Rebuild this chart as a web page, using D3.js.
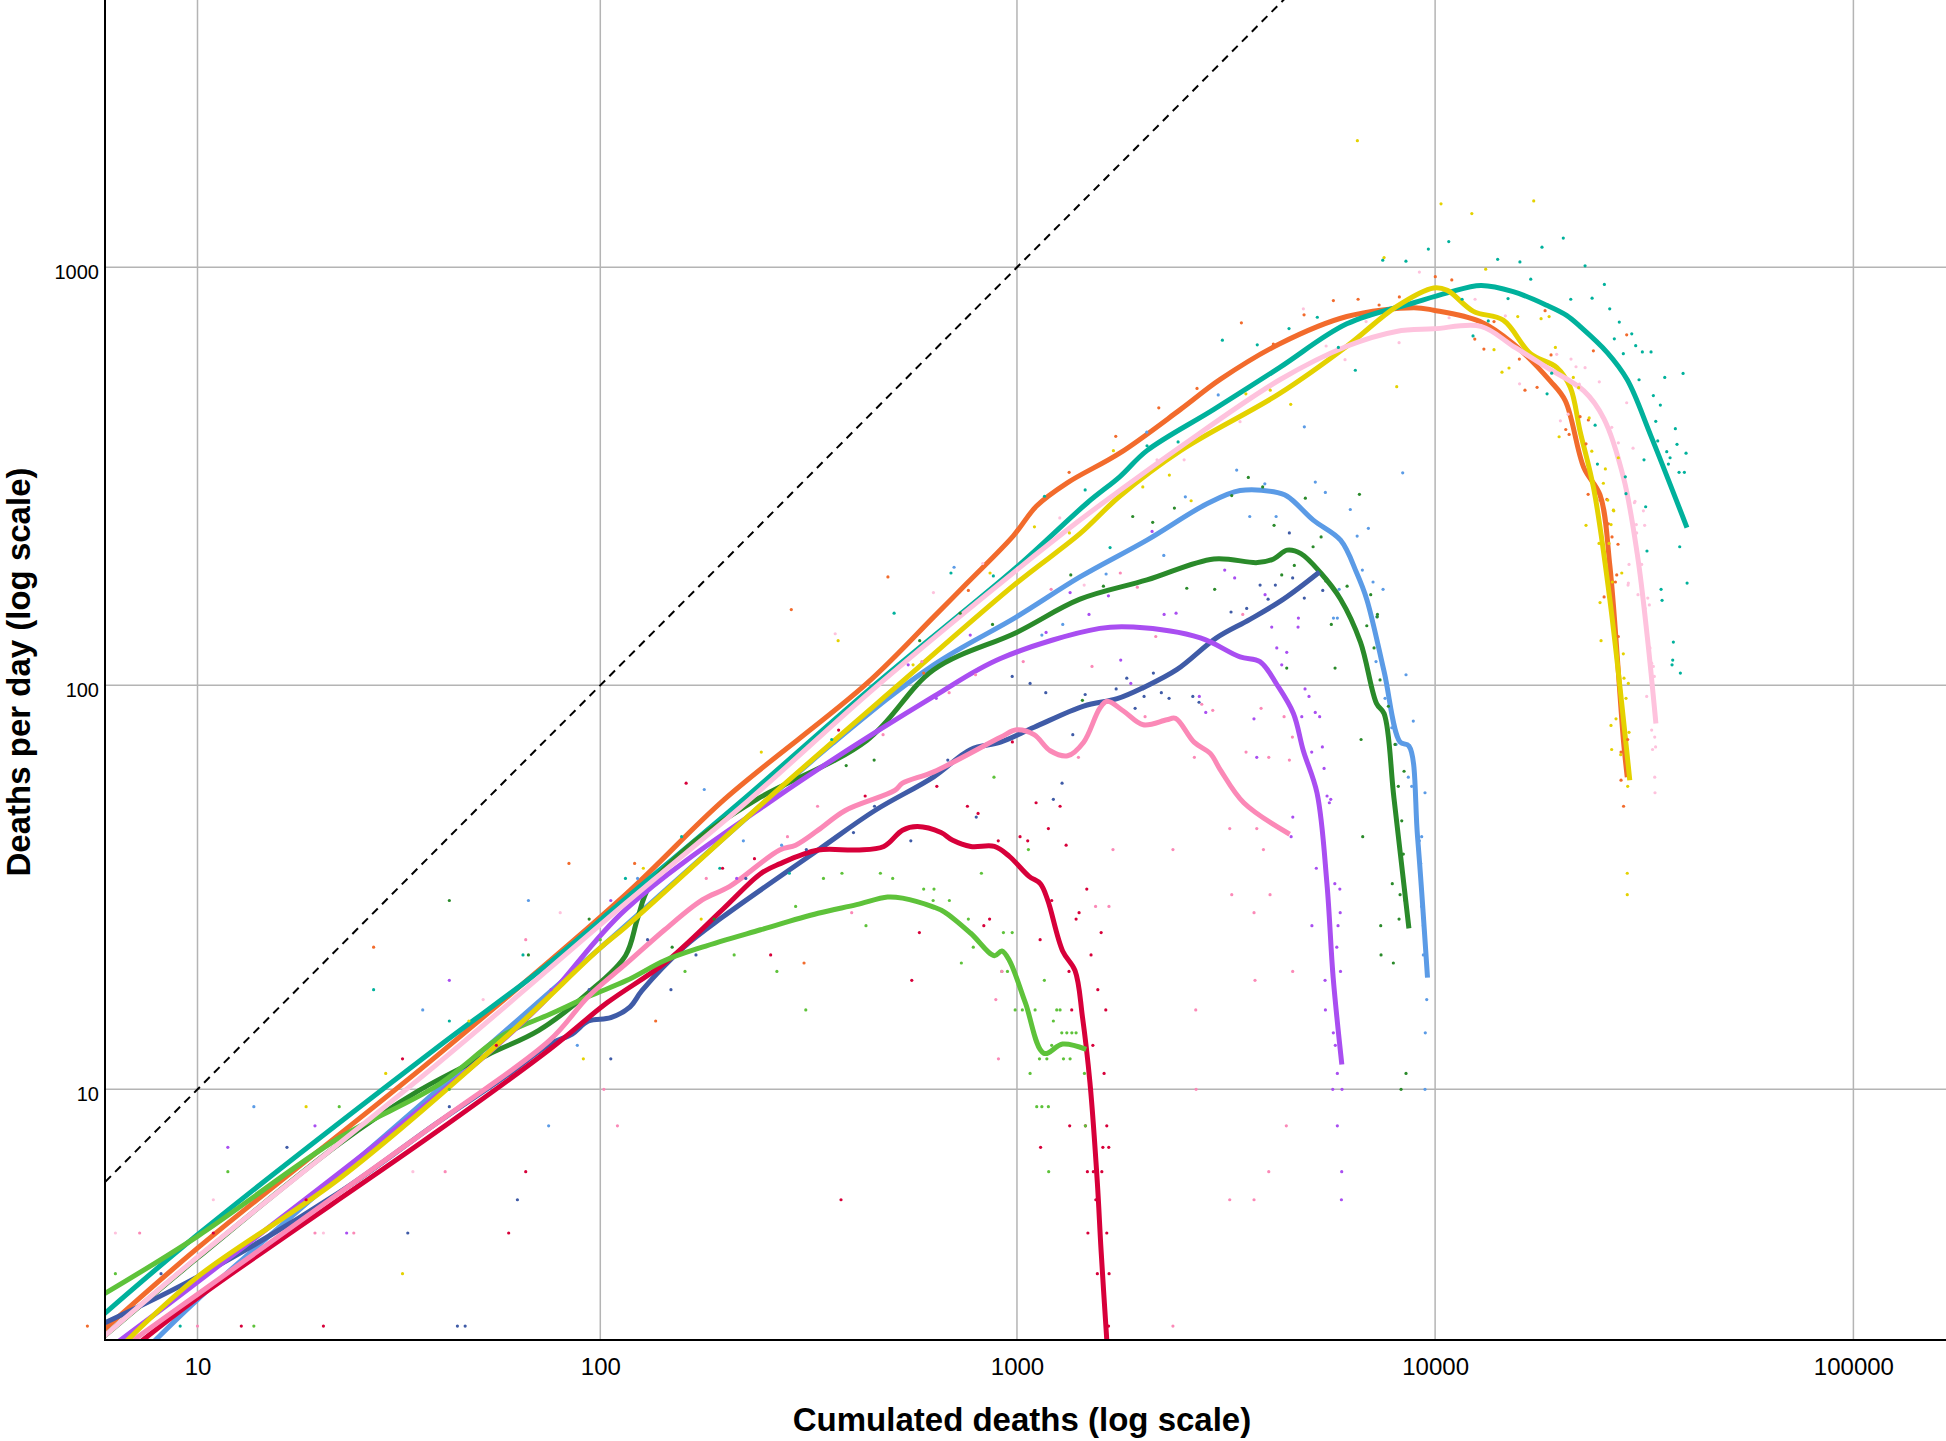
<!DOCTYPE html>
<html>
<head>
<meta charset="utf-8">
<script src="https://d3js.org/d3.v7.min.js"></script>
<style>
  body { margin: 0; background: #fff; font-family: "Liberation Sans", Arial, Helvetica, sans-serif; }
  .grid line { stroke: #b4b4b4; stroke-width: 1.5px; }
  .axis-line { stroke: #000; stroke-width: 2px; }
  .xlab text { font-size: 24px; fill: #000; }
  .ylab text { font-size: 20px; fill: #000; }
  .title { font-size: 33px; font-weight: bold; fill: #000; }
  .smooth { fill: none; stroke-width: 5px; stroke-linejoin: round; }
  .diag { fill: none; stroke: #000; stroke-width: 2px; stroke-dasharray: 8,6; }
</style>
</head>
<body>
<svg width="1946" height="1441"></svg>
<script>
// tick values
var xTicks = [10, 100, 1000, 10000, 100000];
var yTicks = [10, 100, 1000];

// smoothed curves: [cumulated deaths, deaths per day]
var orangeLine = [[5.4,1.87],[10,3.6],[40,12.2],[115,31],[199,53],[437,101],[632,146],[760,176],[979,228],[1114,269],[1322,306],[1761,360],[2462,458],[3063,540],[4253,657],[6150,763],[8895,801],[9922,790],[12780,743],[15370,657],[18860,535],[20480,480],[22680,332],[24790,286],[26180,193],[28220,73],[28800,60]];
var tealLine = [[5.4,2.13],[10,3.95],[40,12.8],[71,20],[115,30.3],[221,53],[461,101],[998,192],[1474,274],[1761,316],[2046,365],[2958,458],[4253,577],[6150,733],[8895,823],[10695,869],[12870,905],[15370,875],[18480,812],[20620,768],[22200,723],[25800,626],[28800,539],[32800,396],[40000,239]];
var yellowLine = [[6.35,1.73],[10,2.93],[22.96,5.72],[58.8,13.6],[100,22.9],[115,25.8],[252,53],[525,101],[998,176],[1415,231],[1761,284],[2462,365],[4253,500],[6150,648],[8080,806],[9922,893],[10695,881],[12350,785],[14550,748],[16910,622],[19520,577],[21040,517],[22200,407],[23960,295],[26180,160],[29200,59]];
var lightpinkLine = [[5.4,1.77],[10,3.38],[40,11.6],[115,29.5],[229,53],[461,99.4],[998,189],[1415,249],[1761,293],[2462,373],[4253,539],[6150,648],[8080,703],[9922,713],[12870,723],[15370,648],[18480,577],[22680,507],[25300,436],[28220,314],[30440,206],[32150,131],[33720,80.9]];
var blueLine = [[7.42,1.68],[10,2.47],[40,9.9],[100,22.9],[362,72.4],[632,112],[998,146],[1415,182],[2046,223],[2840,272],[3417,293],[4110,291],[4430,284],[5113,249],[5942,223],[6495,186],[6862,161],[7550,108],[8250,72.9],[8657,71.4],[9078,43],[9590,19.3]];
var darkgreenLine = [[5.4,1.77],[10,3.36],[22.8,7.1],[36.1,9.9],[53.4,12.3],[71,14.2],[93.6,17.7],[115,21.9],[123,27.1],[131,32.3],[169,41.9],[238,53],[437,73.6],[632,109],[998,134],[1415,161],[2046,179],[2958,201],[3760,197],[4110,201],[4430,211],[4776,207],[5328,186],[5942,161],[6630,127],[7246,90.3],[7550,85.5],[7972,53.4],[8657,25.6]];
var purpleLine = [[5.86,1.68],[10,2.82],[40,9.6],[71,16.3],[115,28.5],[261,53],[632,94],[913,116],[1578,137],[1898,138],[2746,130],[3417,117],[3812,114],[4195,100],[4584,85.5],[4841,69.5],[5220,54.9],[5513,33],[5705,19.3],[5984,11.6]];
var navyLine = [[5.4,2.01],[10,2.93],[22.96,5.24],[40,8.13],[58.8,10.8],[75.5,13.1],[85.5,13.9],[93.6,15.0],[106,15.3],[118,16.3],[126,17.9],[159,23],[197,27.3],[334,39.9],[457,49.8],[632,60.1],[775,70],[913,72.9],[1099,79.2],[1444,89.1],[1737,92.8],[2005,98.7],[2411,109],[3000,130],[3608,144],[4340,161],[5290,187]];
var hotpinkLine = [[6.35,1.68],[10,2.57],[40,8.13],[75.5,13.4],[93.6,17.3],[116,21],[143,25.4],[176,30.1],[205,32.5],[270,39.9],[295,41],[334,44.6],[388,49.8],[510,55.7],[532,58],[632,61.8],[913,74.9],[998,78.1],[1099,76],[1201,69.5],[1322,67.6],[1444,72.9],[1578,88],[1644,91.5],[1797,86.7],[2005,80.3],[2283,82.6],[2395,83.2],[2652,72.9],[2899,68.5],[3062,62.6],[3487,52],[4491,43.6]];
var redLine = [[6.6,1.63],[10,2.5],[40,7.71],[75.5,12.7],[104,16.7],[143,21],[197,28.5],[243,34.9],[270,36.9],[334,39.9],[413,39.9],[480,40.7],[532,44.6],[578,45.5],[658,44],[700,42.2],[775,40.7],[883,40.7],[959,38.5],[1069,34.4],[1137,33],[1184,30.1],[1286,22.5],[1377,20.1],[1434,15.4],[1495,10.4],[1557,5.59],[1589,3.56],[1644,1.68]];
var greenLine = [[5.4,2.52],[10,3.91],[22.96,7.42],[40,10.2],[58.8,13.9],[75.5,15.6],[93.6,17.3],[116,19],[143,21.3],[176,23],[243,25.4],[334,27.9],[413,29.3],[490,30.6],[532,30.4],[632,28.9],[671,28.1],[775,24.9],[883,21.9],[920,22.5],[959,21.3],[1047,16.7],[1160,12.4],[1286,13.1],[1464,12.7]];

// daily observations: [cumulated deaths, deaths per day]
var orangeDots = [[5,2],[28,23],[84,37],[121,37],[136,15],[288,152],[491,182],[598,107],[765,169],[309,21],[1333,324],[1723,395],[2184,462],[2696,514],[3442,737],[4104,656],[4860,770],[5712,833],[6544,839],[7346,813],[8212,850],[10010,950],[10960,933],[12440,674],[13080,638],[13830,742],[15900,604],[16400,509],[17530,517],[18320,788],[18930,618],[20530,410],[20910,399],[22210,440],[22950,379],[23250,432],[23220,287],[23900,632],[24790,278],[25050,275],[24800,282],[25740,279],[25960,244],[26480,227],[27370,218],[27180,184],[26980,177],[25350,163],[27420,131],[27830,69],[27830,59],[28870,74],[28220,51],[28710,690]];
var tealDots = [[9,2],[28,18],[43,15],[65,22],[115,34],[157,43],[194,36],[285,35],[360,74],[508,149],[695,186],[878,183],[1164,284],[1456,294],[1670,214],[2047,375],[2429,383],[3100,670],[3756,653],[4474,714],[5228,760],[5871,644],[6446,568],[7496,1040],[8517,1034],[9635,1105],[10780,1152],[11600,839],[12320,686],[13400,745],[14110,1045],[14940,842],[15950,1030],[16930,937],[18010,1117],[18520,499],[19000,559],[20250,1174],[21100,839],[22830,1008],[23730,844],[24130,420],[24440,339],[25390,910],[26150,796],[26820,675],[27560,740],[28180,622],[28490,316],[28600,288],[29520,694],[30170,650],[30730,539],[31290,628],[31580,347],[31870,268],[32100,210],[32830,628],[33250,494],[33690,429],[34060,385],[34550,469],[34690,170],[34880,160],[35400,546],[35790,363],[36120,339],[36450,351],[36850,112],[36990,115],[37120,127],[37530,412],[37870,378],[38300,324],[38440,215],[38580,107],[39160,558],[39440,324],[39800,360],[40030,176]];
var yellowDots = [[19,9],[30,11],[33,3],[48,15],[91,12],[127,36],[175,27],[244,69],[373,128],[564,112],[862,186],[1101,240],[1335,232],[1701,365],[2000,299],[2315,319],[2610,277],[3528,499],[4035,509],[4516,471],[6518,2004],[7550,1055],[8095,519],[10330,1417],[12240,1343],[13210,990],[13830,636],[14450,562],[15020,575],[15760,763],[17210,1440],[17920,754],[18730,763],[19390,644],[19790,394],[21400,546],[22040,516],[22950,242],[23350,437],[23690,364],[24650,219],[24790,158],[24930,128],[25250,305],[25530,330],[25870,278],[26050,219],[26340,243],[26530,177],[26680,263],[26740,262],[27420,351],[27940,186],[28180,119],[28290,104],[28970,101],[28600,93],[29080,77],[26330,80],[27070,83],[26430,70],[27780,68],[28870,57],[28800,35],[28800,31]];
var lightpinkDots = [[6,4],[11,5],[21,4],[35,6],[52,17],[80,28],[367,133],[631,167],[828,196],[1266,252],[1448,174],[2163,347],[2511,347],[3416,428],[4841,796],[5488,649],[6090,602],[6839,742],[8200,661],[9170,974],[10800,758],[12460,839],[14720,766],[15920,527],[19530,620],[19930,430],[20790,446],[21130,604],[21720,579],[22120,526],[22830,576],[24690,533],[25110,438],[26440,415],[27420,381],[28710,475],[29730,370],[29950,274],[30050,276],[30270,243],[31470,262],[31690,242],[30330,232],[29080,195],[28920,174],[28970,176],[31180,195],[30550,165],[32240,162],[32520,156],[31760,153],[32640,123],[32940,113],[33240,111],[33420,105],[32050,94],[32940,78],[33500,75],[33660,71],[33100,70],[33500,60],[33550,55]];
var blueDots = [[14,9],[37,16],[67,30],[75,8],[88,13],[123,34],[178,56],[221,42],[273,41],[707,192],[1147,132],[1287,140],[1634,185],[2044,404],[2245,205],[2528,283],[3030,496],[3354,328],[3604,254],[3916,304],[4167,254],[4868,416],[5171,307],[5465,290],[5714,145],[5838,145],[5896,170],[6269,264],[6510,228],[6700,189],[6926,238],[7106,177],[7223,114],[7250,146],[7508,170],[7591,93],[7877,79],[8065,72],[8366,323],[8520,106],[8629,60],[8790,57],[8868,82],[9036,47],[9167,42],[9237,37],[9254,33],[9288,43],[9288,29],[9372,26],[9372,22],[9459,55],[9474,14],[9459,10],[9549,17]];
var darkgreenDots = [[43,30],[67,22],[94,27],[149,23],[188,27],[390,64],[455,66],[585,128],[731,149],[874,140],[1345,184],[1434,92],[1610,173],[1892,254],[2112,246],[2380,266],[2548,171],[2971,170],[3263,285],[3576,315],[3870,299],[4120,242],[4298,184],[4607,194],[4418,110],[4895,281],[5108,215],[5339,227],[5480,178],[5647,140],[5765,110],[6160,173],[6592,287],[6652,74],[6713,43],[6865,139],[7016,165],[7145,123],[7275,146],[7280,148],[7385,103],[7413,26],[7425,22],[7731,89],[7900,33],[7946,21],[8020,72],[8167,57],[8200,27],[8245,31],[8290,10],[8322,47],[8395,39],[8428,62],[8475,30],[8520,11]];
var purpleDots = [[12,7],[20,8],[24,4],[43,19],[76,18],[106,30],[213,34],[549,112],[641,93],[773,132],[1174,134],[1340,167],[1487,148],[1655,164],[1771,115],[1872,101],[2105,234],[2249,148],[2402,149],[2642,131],[2730,94],[2829,86],[3140,189],[3317,181],[3689,83],[3746,67],[3921,165],[4068,138],[4182,123],[4298,112],[4418,120],[4526,43],[4568,48],[4702,138],[4711,145],[4800,84],[4886,98],[4994,94],[5069,69],[5075,26],[5170,86],[5200,36],[5296,84],[5376,71],[5427,63],[5456,19],[5466,16],[5516,54],[5586,52],[5629,53],[5692,10],[5710,14],[5757,33],[5773,13],[5820,23],[5838,11],[5838,8],[5860,26],[5918,32],[5930,28],[5940,20],[5970,5],[5980,6],[5990,10]];
var navyDots = [[8,3],[17,7],[34,4],[43,9],[45,2],[47,2],[63,5],[94,18],[106,12],[130,24],[148,18],[170,22],[224,34],[313,40],[406,44],[456,51],[557,42],[683,66],[799,48],[974,105],[1075,101],[1172,96],[1222,53],[1282,58],[1360,76],[1456,95],[1727,98],[1831,104],[1917,88],[2014,94],[2120,107],[2215,96],[2311,93],[2634,94],[2726,91],[3251,150],[3544,153],[3815,174],[3987,161],[4150,174],[4482,232],[4564,181],[4867,162],[5387,169]];
var hotpinkDots = [[7,4],[10,2],[20,4],[25,4],[42,6],[66,24],[102,10],[110,8],[180,34],[282,43],[333,51],[402,28],[478,76],[592,114],[688,96],[796,106],[890,17],[903,12],[920,20],[1035,114],[1207,170],[1403,67],[1512,111],[1542,29],[1660,29],[1697,40],[1767,186],[1941,172],[2025,84],[2148,131],[2361,40],[2361,2],[2657,67],[2677,16],[2682,10],[2767,90],[2940,87],[3228,45],[3228,5],[3264,31],[3468,148],[3531,69],[3690,28],[3690,5],[3710,19],[3746,45],[3836,88],[3886,40],[4002,67],[4002,6],[4030,31],[4354,84],[4408,8],[4483,66],[4558,75],[4565,20]];
var redDots = [[11,4],[13,2],[19,5],[21,2],[33,12],[56,13],[60,4],[66,6],[161,58],[197,36],[235,38],[257,22],[374,78],[379,5],[433,54],[560,19],[584,25],[643,57],[761,51],[807,49],[833,26],[860,27],[902,42],[975,73],[1017,43],[1061,42],[1111,52],[1136,24],[1139,7],[1189,45],[1211,30],[1268,51],[1311,41],[1332,20],[1337,8],[1352,16],[1385,27],[1408,28],[1458,8],[1469,32],[1474,6],[1478,4],[1504,22],[1519,13],[1523,6],[1544,5],[1557,3],[1561,18],[1590,25],[1596,6],[1605,7],[1616,11],[1631,16],[1640,8],[1640,4],[1656,2],[1658,7],[1661,3]];
var greenDots = [[6,3],[12,6],[14,2],[23,9],[43,10],[100,24],[160,20],[210,22],[266,20],[295,29],[312,16],[344,34],[381,35],[435,26],[471,35],[504,34],[598,32],[630,30],[633,32],[689,30],[736,21],[765,27],[786,23],[822,35],[881,60],[920,20],[928,25],[949,20],[974,25],[990,16],[1030,16],[1065,40],[1075,11],[1105,16],[1115,9],[1132,12],[1147,9],[1163,19],[1179,12],[1189,9],[1191,6],[1211,13],[1222,15],[1245,16],[1268,16],[1280,14],[1292,12],[1316,14],[1340,12],[1353,14],[1385,14],[1450,11],[1458,8]];

// bottom-to-top drawing order
var series = [
  {key: "orange",    color: "#f26b2c", line: orangeLine,    dots: orangeDots},
  {key: "teal",      color: "#00b19c", line: tealLine,      dots: tealDots},
  {key: "blue",      color: "#5b9be6", line: blueLine,      dots: blueDots},
  {key: "darkgreen", color: "#2a8a2a", line: darkgreenLine, dots: darkgreenDots},
  {key: "navy",      color: "#3f5ba7", line: navyLine,      dots: navyDots},
  {key: "red",       color: "#d7003a", line: redLine,       dots: redDots},
  {key: "green",     color: "#5ec23a", line: greenLine,     dots: greenDots},
  {key: "hotpink",   color: "#fb89b7", line: hotpinkLine,   dots: hotpinkDots},
  {key: "purple",    color: "#a94ef1", line: purpleLine,    dots: purpleDots},
  {key: "yellow",    color: "#e4d200", line: yellowLine,    dots: yellowDots},
  {key: "lightpink", color: "#fec2dd", line: lightpinkLine, dots: lightpinkDots}
];

var svg = d3.select("svg"),
    plotLeft = 105, plotRight = 1946, plotTop = 0, plotBottom = 1340;

// log(1 + v) axes
var x = d3.scaleSymlog().constant(1).domain([10, 100000]).range([197.5, 1853.4]),
    y = d3.scaleSymlog().constant(1).domain([10, 1000]).range([1089.3, 267.3]);

svg.append("defs").append("clipPath").attr("id", "plot")
  .append("rect").attr("x", plotLeft).attr("y", plotTop)
  .attr("width", plotRight - plotLeft).attr("height", plotBottom - plotTop);

// grid
var grid = svg.append("g").attr("class", "grid");
grid.selectAll(".gx").data(xTicks).enter().append("line")
  .attr("x1", function(d) { return x(d); }).attr("x2", function(d) { return x(d); })
  .attr("y1", plotTop).attr("y2", plotBottom);
grid.selectAll(".gy").data(yTicks).enter().append("line")
  .attr("y1", function(d) { return y(d); }).attr("y2", function(d) { return y(d); })
  .attr("x1", plotLeft).attr("x2", plotRight);

// tick labels
var xa = svg.append("g").attr("class", "xlab")
  .attr("transform", "translate(0," + plotBottom + ")")
  .call(d3.axisBottom(x).tickValues(xTicks).tickSize(0).tickPadding(18).tickFormat(d3.format("d")));
xa.select(".domain").remove();
xa.attr("font-family", null).attr("font-size", null);

var ya = svg.append("g").attr("class", "ylab")
  .attr("transform", "translate(" + plotLeft + ",0)")
  .call(d3.axisLeft(y).tickValues(yTicks).tickSize(0).tickPadding(6).tickFormat(d3.format("d")));
ya.select(".domain").remove();
ya.attr("font-family", null).attr("font-size", null);
ya.selectAll("text").attr("dy", "0.56em");

// y = x reference
var diag = d3.line().x(function(d) { return x(d); }).y(function(d) { return y(d); });
svg.append("path").attr("class", "diag").attr("clip-path", "url(#plot)")
  .attr("d", diag([1, 100000]));

// smoothed lines
var line = d3.line()
  .curve(d3.curveCatmullRom.alpha(0.5))
  .x(function(d) { return x(d[0]); })
  .y(function(d) { return y(d[1]); });

svg.append("g").attr("clip-path", "url(#plot)")
  .selectAll("path").data(series).enter().append("path")
  .attr("class", "smooth")
  .attr("stroke", function(d) { return d.color; })
  .attr("d", function(d) { return line(d.line); });

// points
var pts = svg.append("g");
series.forEach(function(s) {
  pts.append("g").attr("fill", s.color)
    .selectAll("circle").data(s.dots).enter().append("circle")
    .attr("cx", function(d) { return x(d[0]); })
    .attr("cy", function(d) { return y(d[1]); })
    .attr("r", 1.6);
});

// axis lines
svg.append("line").attr("class", "axis-line")
  .attr("x1", plotLeft).attr("x2", plotLeft).attr("y1", plotTop).attr("y2", plotBottom + 1);
svg.append("line").attr("class", "axis-line")
  .attr("x1", plotLeft - 1).attr("x2", plotRight).attr("y1", plotBottom).attr("y2", plotBottom);

// titles
svg.append("text").attr("class", "title")
  .attr("x", 1022).attr("y", 1431).attr("text-anchor", "middle")
  .text("Cumulated deaths (log scale)");
svg.append("text").attr("class", "title")
  .attr("transform", "translate(30,672) rotate(-90)").attr("text-anchor", "middle")
  .text("Deaths per day (log scale)");
</script>
</body>
</html>
